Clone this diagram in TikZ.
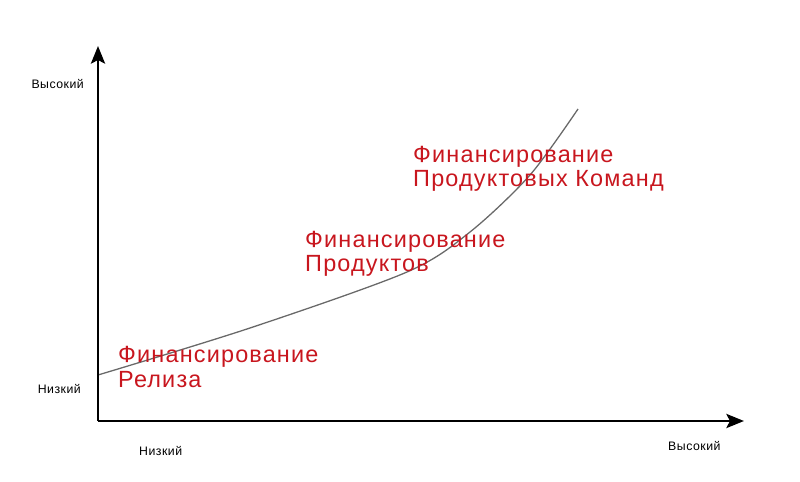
\documentclass[tikz,border=0pt]{standalone}
\usepackage{fontspec}
\setmainfont{Liberation Sans}
\newfontfamily\redfont[LetterSpace=5]{Liberation Sans}
\newfontfamily\axfont[LetterSpace=4]{Liberation Sans}
\usepackage{tikz}
\usetikzlibrary{arrows.meta}
\definecolor{stagered}{RGB}{200,22,30}
\definecolor{curvegray}{RGB}{105,105,105}

\begin{document}
\begin{tikzpicture}[x=0.03cm,y=-0.03cm,
  axis/.style={line width=2.2pt,-{Stealth[length=15pt,width=12pt,inset=3pt]}},
  lvl/.style={font=\axfont\fontsize{10.5}{12}\selectfont,inner sep=0pt},
  stage/.style={font=\redfont\fontsize{20}{21}\selectfont,text=stagered,align=left,anchor=base west,inner sep=0pt}]
\useasboundingbox (0,0) rectangle (800,482);
\coordinate (origin) at (98,421);
\coordinate (ytip) at (98,46);
\coordinate (xtip) at (744,421);
\coordinate (c0) at (98,375);
\coordinate (c1) at (578,109);
\draw [curvegray,line width=1.1pt] plot[smooth] coordinates {(c0) (250,328) (407,272) (470,232) (530,175) (c1)};
\draw [axis] (origin)--(ytip);
\draw [axis] (origin)--(xtip);
\node [lvl,anchor=east] (yhigh) at (84,84) {Высокий};
\node [lvl,anchor=east] (ylow) at (81,389) {Низкий};
\node [lvl,anchor=west] (xlow) at (139,451) {Низкий};
\node [lvl,anchor=west] (xhigh) at (668,446) {Высокий};
\node [stage] (release) at (118,387) {Финансирование\\Релиза};
\node [stage] (product) at (305,272) {Финансирование\\Продуктов};
\node [stage] (teams) at (413,187) {Финансирование\\Продуктовых Команд};
\end{tikzpicture}
\end{document}
